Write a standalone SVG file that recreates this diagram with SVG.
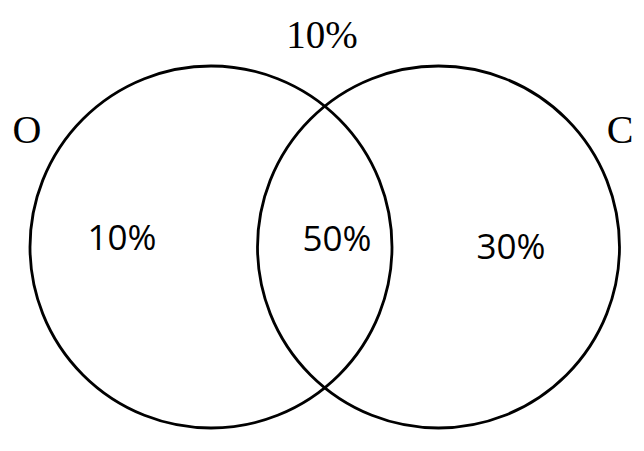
<svg xmlns="http://www.w3.org/2000/svg" width="644" height="451" viewBox="0 0 644 451">
<style>
.c{fill:none;stroke:#000;stroke-width:2.8}
.s{font-family:"Liberation Serif","DejaVu Serif",serif;fill:#000}
.n{font-family:"Open Sans","Noto Sans",sans-serif;fill:#000;text-anchor:middle}
</style>
<rect width="644" height="451" fill="#fff"/>
<g id="circle-O"><circle class="c" cx="211" cy="247" r="181"/></g>
<g id="circle-C"><circle class="c" cx="438.5" cy="247" r="181"/></g>
<g id="labels">
<text class="s" x="322" y="48" font-size="39" text-anchor="middle">10%</text>
<text class="s" x="27" y="143" font-size="40" text-anchor="middle">O</text>
<text class="s" x="620" y="143" font-size="40" text-anchor="middle">C</text>
<text class="n" x="122" y="250" font-size="35">10%</text>
<text class="n" x="337" y="251" font-size="35">50%</text>
<text class="n" x="511" y="259" font-size="35">30%</text>
</g>
<g id="connectors"/>
</svg>
